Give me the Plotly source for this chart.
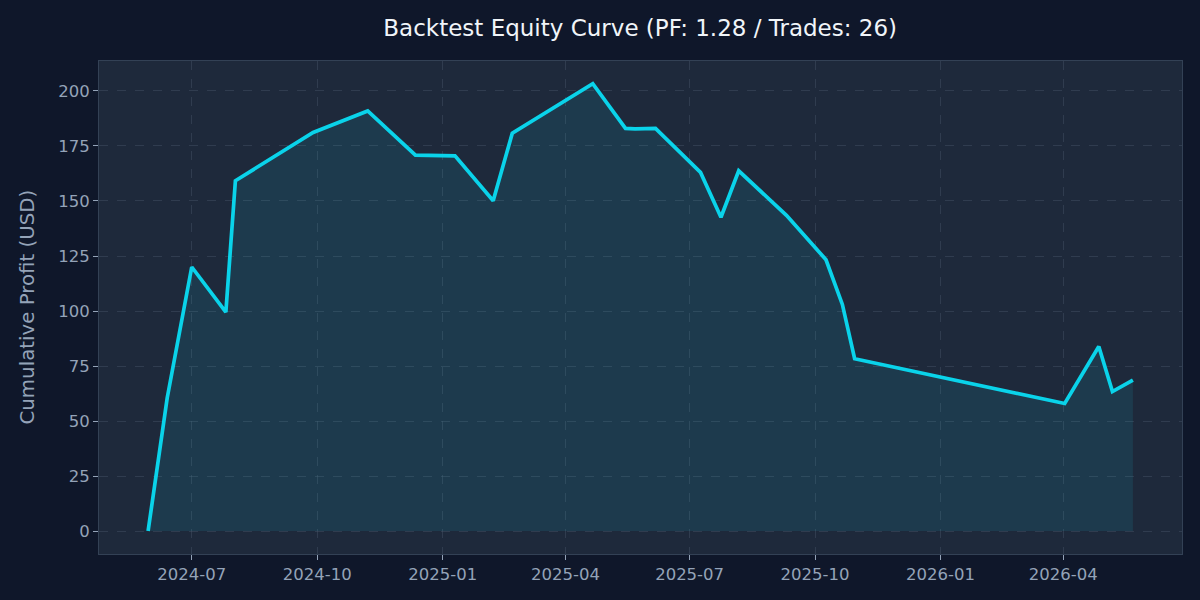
import plotly.graph_objects as go

dates = [
    "2024-05-30", "2024-06-13", "2024-07-01", "2024-07-26", "2024-08-02",
    "2024-09-28", "2024-11-07", "2024-12-12", "2025-01-10", "2025-02-07",
    "2025-02-21", "2025-04-21", "2025-05-15", "2025-05-22", "2025-06-06",
    "2025-07-09", "2025-07-24", "2025-08-06", "2025-09-10", "2025-10-09",
    "2025-10-21", "2025-10-30", "2026-04-02", "2026-04-27", "2026-05-07",
    "2026-05-22",
]
profit = [
    0.0, 60.5, 120.0, 99.5, 159.2,
    181.1, 190.9, 170.8, 170.5, 150.1,
    180.8, 203.3, 183.0, 182.8, 183.0,
    163.0, 142.6, 163.7, 143.5, 123.3,
    103.0, 78.3, 58.0, 83.9, 63.4,
    68.6,
]
x_tick_vals = ["2024-07-01", "2024-10-01", "2025-01-01", "2025-04-01",
               "2025-07-01", "2025-10-01", "2026-01-01", "2026-04-01"]
x_tick_text = ["2024-07", "2024-10", "2025-01", "2025-04",
               "2025-07", "2025-10", "2026-01", "2026-04"]
y_tick_vals = [0, 25, 50, 75, 100, 125, 150, 175, 200]

title_text = "Backtest Equity Curve (PF: 1.28 / Trades: 26)"
y_label = "Cumulative Profit (USD)"

FONT = "DejaVu Sans, Liberation Sans, sans-serif"
TICK_COLOR = "#94a3b8"
SPINE = "#334155"
GRID = "rgba(71,85,105,0.45)"

fig = go.Figure()
fig.add_trace(go.Scatter(
    x=dates, y=profit, mode="lines",
    line=dict(color="#0ad3ea", width=3.7),
    fill="tozeroy", fillcolor="rgba(34,211,238,0.10)",
    hoverinfo="x+y", showlegend=False,
))

fig.update_layout(
    width=1200, height=600,
    paper_bgcolor="#0f172a", plot_bgcolor="#1e293b",
    margin=dict(l=99, r=18, t=61, b=46),
    font=dict(family=FONT, color=TICK_COLOR, size=16),
    title=dict(text=title_text, x=0.5335, xanchor="center",
               y=1 - 28 / 600, yanchor="middle",
               font=dict(family=FONT, size=23, color="#f1f5f9")),
    showlegend=False,
)
fig.update_xaxes(
    range=["2024-04-24", "2026-06-27"],
    tickmode="array", tickvals=x_tick_vals, ticktext=x_tick_text,
    ticks="outside", ticklen=5, tickwidth=1, tickcolor=TICK_COLOR,
    tickfont=dict(family=FONT, size=16.5, color=TICK_COLOR),
    showgrid=True, gridcolor=GRID, griddash="dash", gridwidth=1,
    showline=True, linecolor=SPINE, linewidth=1, mirror=True,
    zeroline=False,
)
fig.update_yaxes(
    range=[-10.4, 213.6],
    tickmode="array", tickvals=y_tick_vals,
    ticks="outside", ticklen=5, tickwidth=1, tickcolor=TICK_COLOR,
    tickfont=dict(family=FONT, size=16.5, color=TICK_COLOR),
    showgrid=True, gridcolor=GRID, griddash="dash", gridwidth=1,
    showline=True, linecolor=SPINE, linewidth=1, mirror=True,
    zeroline=False,
)
fig.add_annotation(
    text=y_label, xref="paper", yref="paper", x=0, y=0.5,
    xanchor="center", yanchor="middle", xshift=-72, textangle=-90,
    showarrow=False, font=dict(family=FONT, size=19.8, color=TICK_COLOR),
)

fig.write_html("out.html")
